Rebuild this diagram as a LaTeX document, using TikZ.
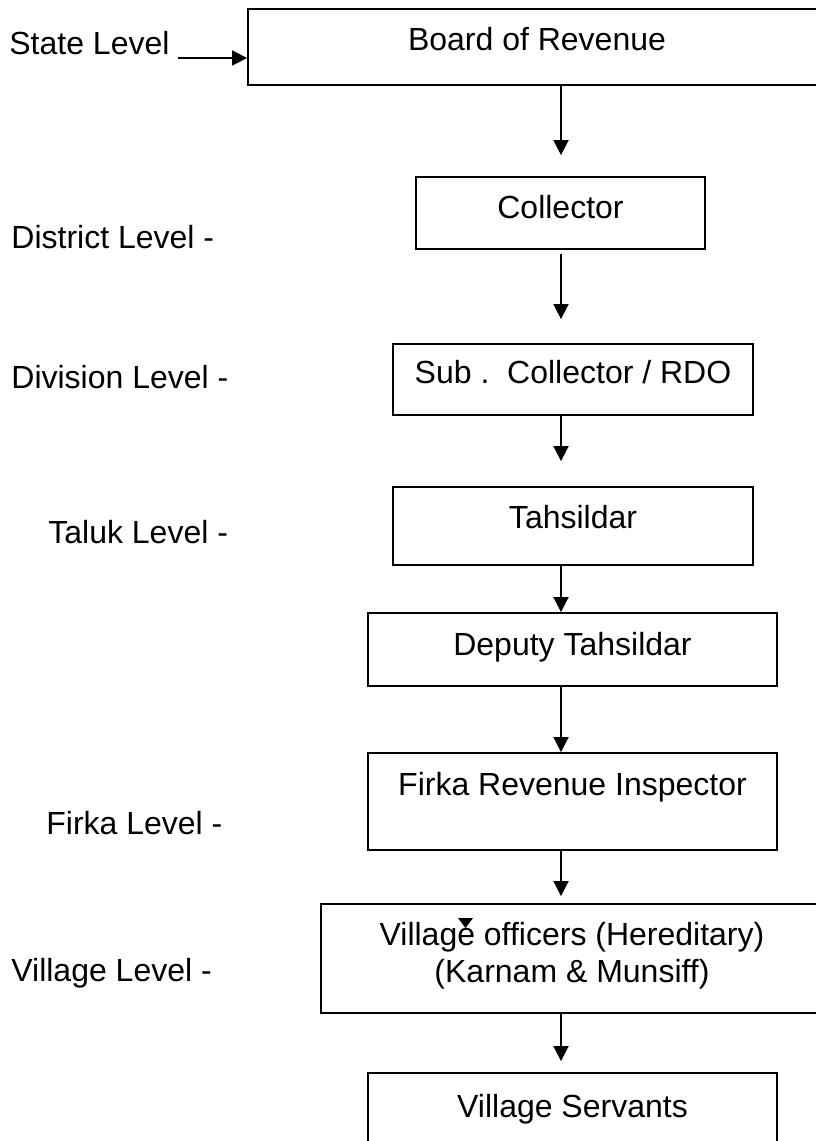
\documentclass[tikz,border=0pt]{standalone}
\usepackage{fontspec}
\setmainfont{Liberation Sans}
\usetikzlibrary{arrows.meta}
\tikzset{
  box/.style={draw, line width=0.9pt, inner sep=0pt, anchor=base, align=center},
  lvl/.style={inner sep=0pt, anchor=base west},
  arr/.style={line width=0.85pt, -{Triangle[length=7.5pt,width=7.5pt]}}
}
\begin{document}
\begin{tikzpicture}[x=0.5pt, y=-0.5pt, font=\fontsize{16}{18.5}\selectfont]
\useasboundingbox (0,0) rectangle (815,1141);
\coordinate (axis) at (561,0);
% offices
\node[box, minimum width=289pt, text height=20.5pt, text depth=17.5pt] (board) at (537,50) {Board of Revenue};
\node[box, minimum width=144.5pt, text height=20.5pt, text depth=15.5pt] (coll) at (560.5,218) {Collector};
\node[box, minimum width=180pt, text height=19.5pt, text depth=16pt] (sub) at (573,383) {Sub .~~Collector / RDO};
\node[box, minimum width=180pt, text height=20.5pt, text depth=18.5pt] (tah) at (573,528) {Tahsildar};
\node[box, minimum width=204.5pt, text height=21pt, text depth=15.5pt] (dep) at (572.5,655) {Deputy Tahsildar};
\node[box, minimum width=204.5pt, text height=21pt, text depth=27.5pt] (firka) at (572.5,795) {Firka Revenue Inspector};
\node[box, minimum width=251pt, text height=39pt, text depth=15.5pt] (vo) at (572,982) {Village officers (Hereditary)\\(Karnam \& Munsiff)};
\node[box, minimum width=204.5pt, text height=22pt, text depth=16.5pt] (vs) at (572.5,1117) {Village Servants};
% levels
\node[lvl] (state) at (9,54) {State Level};
\node[lvl] (dist) at (11,248) {District Level -};
\node[lvl] (div) at (11,388) {Division Level -};
\node[lvl] (taluk) at (48,543) {Taluk Level -};
\node[lvl] (firkal) at (46,834) {Firka Level -};
\node[lvl] (vill) at (11,981) {Village Level -};
% arrows
\draw[arr] ([xshift=4pt,yshift=-2pt]state.base east) -- ([yshift=-2pt]state.base east -| board.west);
\draw[arr, shorten >=10.5pt] (board.south -| axis) -- (coll.north -| axis);
\draw[arr, shorten <=2pt, shorten >=12pt] (coll.south -| axis) -- (sub.north -| axis);
\draw[arr, shorten >=12.5pt] (sub.south -| axis) -- (tah.north -| axis);
\draw[arr] (tah.south -| axis) -- (dep.north -| axis);
\draw[arr] (dep.south -| axis) -- (firka.north -| axis);
\draw[arr, shorten >=3.5pt] (firka.south -| axis) -- (vo.north -| axis);
\draw[arr, shorten >=5.5pt] (vo.south -| axis) -- (vs.north -| axis);
\fill (458,918) -- (473,918) -- (465.5,928) -- cycle;
\end{tikzpicture}
\end{document}
